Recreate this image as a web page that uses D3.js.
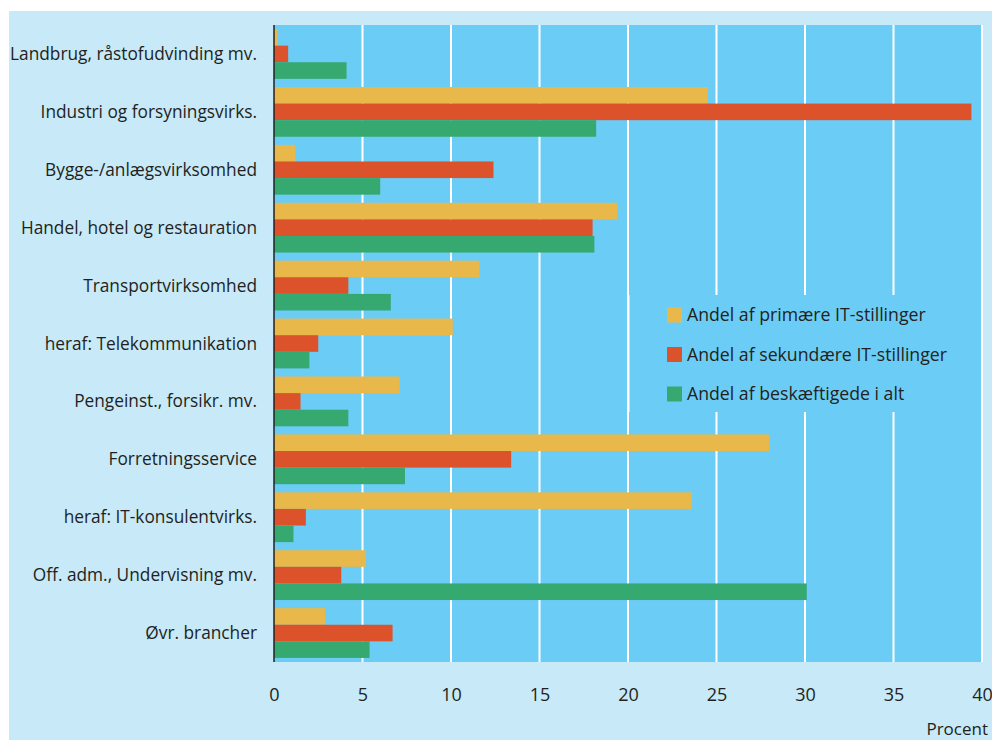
<!DOCTYPE html>
<html>
<head>
<meta charset="utf-8">
<script src="https://cdn.jsdelivr.net/npm/d3@7"></script>
<style>
  body { margin: 0; background: #fff; }
  text { font-family: "Open Sans", sans-serif; fill: #231f20; }
</style>
</head>
<body>
<svg id="chart" width="992" height="740"></svg>
<script>
// data
var categories = [
  "Landbrug, råstofudvinding mv.",
  "Industri og forsyningsvirks.",
  "Bygge-/anlægsvirksomhed",
  "Handel, hotel og restauration",
  "Transportvirksomhed",
  "heraf: Telekommunikation",
  "Pengeinst., forsikr. mv.",
  "Forretningsservice",
  "heraf: IT-konsulentvirks.",
  "Off. adm., Undervisning mv.",
  "Øvr. brancher"
];
var seriesNames = [
  "Andel af primære IT-stillinger",
  "Andel af sekundære IT-stillinger",
  "Andel af beskæftigede i alt"
];
var primaer   = [0.2, 24.5, 1.2, 19.4, 11.6, 10.1, 7.1, 28.0, 23.6, 5.2, 2.9];
var sekundaer = [0.8, 39.4, 12.4, 18.0, 4.2, 2.5, 1.5, 13.4, 1.8, 3.8, 6.7];
var ialt      = [4.1, 18.2, 6.0, 18.1, 6.6, 2.0, 4.2, 7.4, 1.1, 30.1, 5.4];
var xTicks = [0, 5, 10, 15, 20, 25, 30, 35, 40];
var colors = ["#e8b84a", "#dc532b", "#36a971"];

var chart = {};
chart.left = 274;
chart.right = 982;
chart.top = 25;
chart.bottom = 662;

var svg = d3.select("#chart");

// outer background
svg.append("rect")
  .attr("x", 9).attr("y", 11)
  .attr("width", 983).attr("height", 729)
  .style("fill", "#c7e9f8");

var x = d3.scaleLinear().domain([0, 40]).range([chart.left, chart.right]);
var y = d3.scaleBand().domain(categories)
  .range([chart.top, chart.bottom])
  .paddingInner(0.14).paddingOuter(0.07);
var ySub = d3.scaleBand().domain(d3.range(3)).range([0, y.bandwidth()]);

// plot area
svg.append("rect")
  .attr("x", chart.left).attr("y", chart.top)
  .attr("width", chart.right - chart.left).attr("height", chart.bottom - chart.top)
  .style("fill", "#6bcdf5");

// white gridlines
svg.append("g").selectAll("line")
  .data(xTicks.slice(1))
  .enter().append("line")
  .attr("x1", function(d) { return x(d); })
  .attr("x2", function(d) { return x(d); })
  .attr("y1", chart.top).attr("y2", chart.bottom)
  .style("stroke", "#fff").style("stroke-width", 2);

// bars
var rows = categories.map(function(c, i) {
  return { cat: c, values: [primaer[i], sekundaer[i], ialt[i]] };
});
var group = svg.append("g").selectAll("g")
  .data(rows)
  .enter().append("g")
  .attr("transform", function(d) { return "translate(0," + y(d.cat) + ")"; });

group.selectAll("rect")
  .data(function(d) { return d.values; })
  .enter().append("rect")
  .attr("x", x(0))
  .attr("y", function(d, i) { return ySub(i); })
  .attr("width", function(d) { return x(d) - x(0); })
  .attr("height", ySub.bandwidth())
  .style("fill", function(d, i) { return colors[i]; });

// category labels
svg.append("g").selectAll("text")
  .data(categories)
  .enter().append("text")
  .attr("x", 257)
  .attr("y", function(d) { return y(d) + y.bandwidth() / 2; })
  .attr("dy", "0.35em")
  .attr("text-anchor", "end")
  .style("font-size", "17.3px")
  .text(function(d) { return d; });

// y axis line
svg.append("line")
  .attr("x1", chart.left).attr("x2", chart.left)
  .attr("y1", chart.top).attr("y2", chart.bottom)
  .style("stroke", "#231f20").style("stroke-width", 1.5);

// x axis tick labels
var xAxis = d3.axisBottom(x).tickValues(xTicks).tickSize(0).tickPadding(0);
var xg = svg.append("g")
  .attr("transform", "translate(0," + (chart.bottom + 26) + ")")
  .call(xAxis);
xg.select(".domain").remove();
xg.selectAll("text")
  .style("font-family", "'Open Sans', sans-serif")
  .style("font-size", "18px")
  .style("fill", "#231f20");

svg.append("text")
  .attr("x", 988).attr("y", 735)
  .attr("text-anchor", "end")
  .style("font-size", "17px")
  .text("Procent");

// legend
var legend = svg.append("g");
legend.append("rect")
  .attr("x", 629).attr("y", 295)
  .attr("width", 350).attr("height", 117)
  .style("fill", "#6bcdf5");
legend.append("line")
  .attr("x1", 629).attr("x2", 629).attr("y1", 295).attr("y2", 412)
  .style("stroke", "#fff").style("stroke-width", 1);

var item = legend.selectAll("g")
  .data(seriesNames)
  .enter().append("g")
  .attr("transform", function(d, i) { return "translate(667," + (315 + i * 39.5) + ")"; });
item.append("rect")
  .attr("x", 0).attr("y", -7.5)
  .attr("width", 15).attr("height", 15)
  .style("fill", function(d, i) { return colors[i]; });
item.append("text")
  .attr("x", 20).attr("dy", "0.35em")
  .style("font-size", "17.7px")
  .text(function(d) { return d; });
</script>
</body>
</html>
